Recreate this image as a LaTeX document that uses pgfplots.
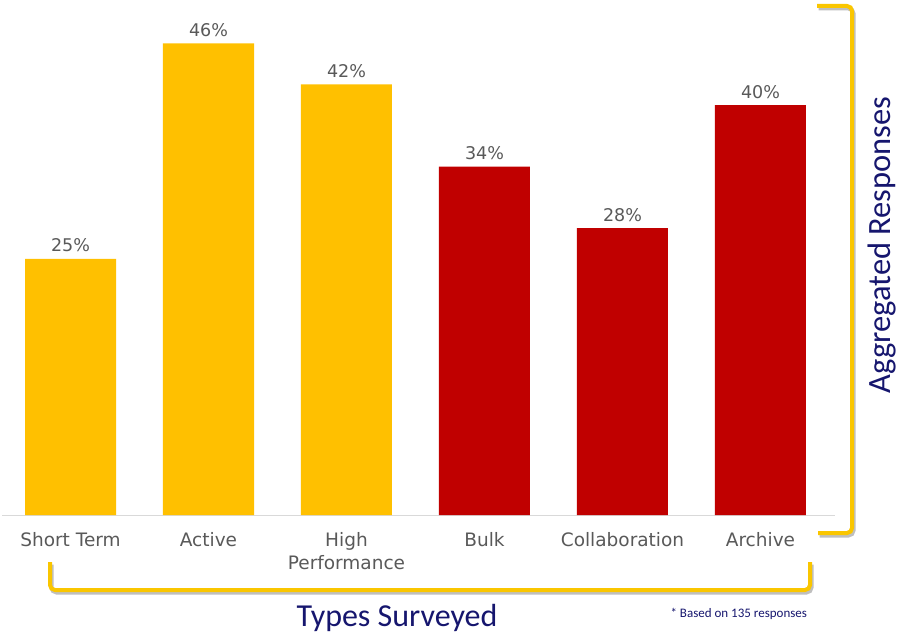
\documentclass[border=0pt]{standalone}
\usepackage{pgfplots}
\pgfplotsset{compat=1.18}
\usepackage{fontspec}
\setmainfont{DejaVu Sans}
\newfontfamily\carlito{Carlito}
\definecolor{gold}{RGB}{255,192,0}
\definecolor{bred}{RGB}{192,0,0}
\definecolor{lbl}{RGB}{89,89,89}
\definecolor{navy}{RGB}{22,22,110}
\definecolor{brk}{RGB}{250,198,0}
\definecolor{axl}{RGB}{217,217,217}
\begin{document}
\begin{tikzpicture}[x=1pt,y=1pt]
\useasboundingbox (-2,-120) rectangle (895,515);
\begin{axis}[
  at={(0,0)}, anchor=south west,
  scale only axis, width=833pt, height=512.5pt,
  xmin=-0.4964, xmax=5.54, ymin=0, ymax=50,
  axis x line*=bottom, axis y line=none,
  x axis line style={draw=axl, line width=1pt},
  xtick={0,1,2,3,4,5},
  xticklabels={Short Term,Active,{High\\Performance},Bulk,Collaboration,Archive},
  xticklabel style={align=center, font=\fontsize{18.5}{23}\selectfont, text=lbl, yshift=-14pt},
  major tick length=0pt,
  /pgf/number format/assume math mode=true,
  ybar, bar width=91pt, bar shift=0pt,
  nodes near coords={\pgfmathprintnumber{\pgfplotspointmeta}\%},
  nodes near coords style={font=\fontsize{17.5}{20}\selectfont, text=lbl, yshift=3pt},
  clip=false,
]
\addplot[fill=gold, draw=none] coordinates {(0,25) (1,46) (2,42)};
\addplot[fill=bred, draw=none] coordinates {(3,34) (4,28) (5,40)};
\end{axis}
% brackets (decoration)
\draw[black, opacity=0.25, line width=4pt, rounded corners=5pt] (816.5,506.5) -- (851.5,506.5) -- (851.5,-20.5) -- (817.5,-20.5);
\draw[brk, line width=4pt, rounded corners=5pt] (815,509) -- (850,509) -- (850,-18) -- (816,-18);
\draw[black, opacity=0.25, line width=4pt, rounded corners=5pt] (49.5,-49.5) -- (49.5,-77.5) -- (809.5,-77.5) -- (809.5,-49.5);
\draw[brk, line width=4pt, rounded corners=5pt] (48,-47) -- (48,-75) -- (808,-75) -- (808,-47);
\node[font=\carlito\fontsize{32}{36}\selectfont, text=navy] at (395,-103) {Types Surveyed};
\node[font=\carlito\fontsize{32.5}{36}\selectfont, text=navy, rotate=90] at (880,270) {Aggregated Responses};
\node[font=\carlito\fontsize{13}{14}\selectfont, text=navy, anchor=west] at (665,-99) {* Based on 135 responses};
\end{tikzpicture}
\end{document}
